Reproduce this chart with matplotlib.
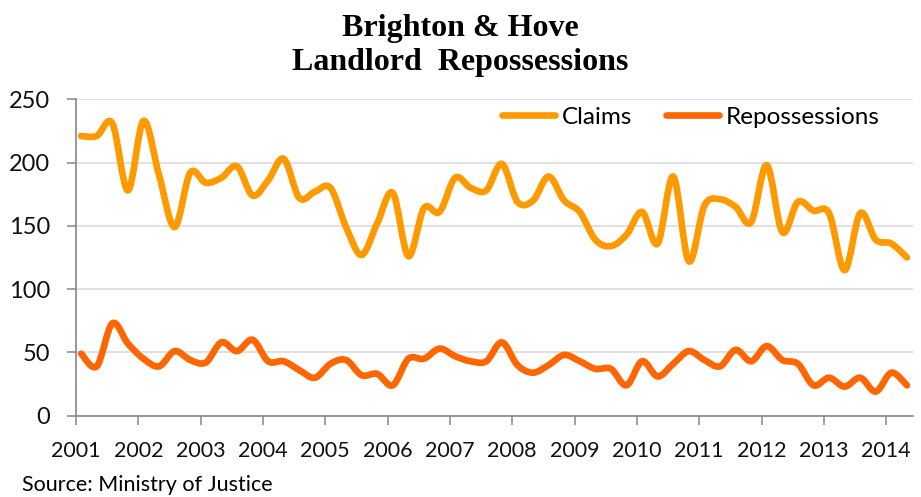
import numpy as np
import matplotlib
matplotlib.use("Agg")
import matplotlib.pyplot as plt
from matplotlib.path import Path
from matplotlib.patches import PathPatch
from matplotlib.lines import Line2D
from matplotlib.transforms import ScaledTranslation

# quarterly data, 2001 Q1 .. 2014 Q2
years = list(range(2001, 2015))
quarter_pos = [2001 + (i // 4) + (3 * (i % 4) + 1) / 12 for i in range(54)]

claims = [221, 221, 231, 178, 233, 190, 149, 192, 184, 188,
          197, 174, 186, 203, 172, 177, 180, 149, 127, 152,
          176, 126, 164, 161, 188, 180, 178, 199, 169, 170,
          189, 170, 161, 139, 134, 143, 161, 136, 189, 122,
          166, 171, 165, 153, 198, 145, 169, 162, 160, 115,
          160, 139, 136, 125]

repossessions = [49, 39, 73, 57, 45, 39, 51, 44, 42, 58,
                 51, 60, 43, 43, 36, 30, 41, 44, 32, 33,
                 24, 45, 45, 53, 47, 43, 43, 58, 40, 34,
                 40, 48, 43, 37, 37, 24, 43, 31, 41, 51,
                 44, 39, 52, 43, 55, 44, 41, 24, 30, 23,
                 30, 19, 34, 24]

claims_color = "#FF9900"
repo_color = "#FF6600"
sans = ["Lato", "DejaVu Sans"]


def smooth_path(x, y):
    # Excel-style smoothed line: cubic bezier through every point
    pts = np.column_stack([x, y]).astype(float)
    n = len(pts)
    verts = [pts[0]]
    codes = [Path.MOVETO]
    for i in range(n - 1):
        p0 = pts[i - 1] if i > 0 else pts[i]
        p1 = pts[i]
        p2 = pts[i + 1]
        p3 = pts[i + 2] if i + 2 < n else pts[i + 1]
        c1 = p1 + (p2 - p0) / 6
        c2 = p2 - (p3 - p1) / 6
        verts += [c1, c2, p2]
        codes += [Path.CURVE4] * 3
    return Path(verts, codes)


fig = plt.figure(figsize=(9.21, 4.97), dpi=100)
ax = fig.add_axes([0.0825, 0.1636, 0.9088, 0.6366])

for data, col in [(claims, claims_color), (repossessions, repo_color)]:
    patch = PathPatch(smooth_path(quarter_pos, data), facecolor="none",
                      edgecolor=col, lw=4.8, capstyle="round", joinstyle="round")
    ax.add_patch(patch)

ax.set_xlim(2001, 2014.43)
ax.set_ylim(0, 250)
ax.set_yticks([0, 50, 100, 150, 200, 250])
ax.set_xticks(years)
ax.set_xticklabels([str(y) for y in years], family=sans, fontsize=15.5)
for lab in ax.get_xticklabels():
    lab.set_transform(lab.get_transform() + ScaledTranslation(0.05, 0, fig.dpi_scale_trans))
for lab in ax.get_yticklabels():
    lab.set_family(sans)
    lab.set_fontsize(17)
ax.grid(axis="y", color="#d9d9d9", lw=1.1)
ax.set_axisbelow(True)
for s in ["top", "right"]:
    ax.spines[s].set_visible(False)
for s in ["left", "bottom"]:
    ax.spines[s].set_color("#868686")
    ax.spines[s].set_linewidth(1.2)
ax.tick_params(axis="both", direction="out", length=6.5, width=1.1, color="#868686",
               labelcolor="#111111")
ax.tick_params(axis="x", pad=11.5)
ax.tick_params(axis="y", pad=12)

handles = [Line2D([], [], color=claims_color, lw=4.8, solid_capstyle="round"),
           Line2D([], [], color=repo_color, lw=4.8, solid_capstyle="round")]
ax.legend(handles, ["Claims", "Repossessions"], loc="center right", ncol=2,
          frameon=False, prop={"family": sans, "size": 17.5},
          handlelength=2.2, handletextpad=0.25, columnspacing=1.4,
          borderpad=0.4, bbox_to_anchor=(0.986, 0.944))

fig.text(0.5, 1 - 36 / 497, "Brighton & Hove", ha="center", va="baseline",
         family=["Liberation Serif", "DejaVu Serif"], weight="bold", fontsize=23)
fig.text(0.5, 1 - 70 / 497, "Landlord  Repossessions", ha="center", va="baseline",
         family=["Liberation Serif", "DejaVu Serif"], weight="bold", fontsize=23)
fig.text(22 / 921, 6 / 497, "Source: Ministry of Justice", ha="left", va="baseline",
         family=sans, fontsize=15.5)

fig.savefig("out.png", dpi=100)
